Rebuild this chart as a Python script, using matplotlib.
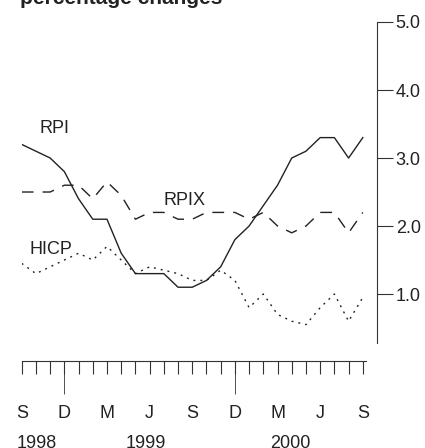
import matplotlib
matplotlib.use("Agg")
from matplotlib import pyplot as plt
from matplotlib import transforms
import numpy as np

plt.rcParams['font.family'] = ['Liberation Sans', 'DejaVu Sans']

# months from Sep 1998 (0) to Sep 2000 (24)
months = np.arange(25)
rpi = [3.2, 3.1, 3.0, 2.8, 2.4, 2.1, 2.1, 1.6, 1.3, 1.3, 1.3, 1.1, 1.1,
       1.2, 1.4, 1.8, 2.0, 2.3, 2.6, 3.0, 3.1, 3.3, 3.3, 3.0, 3.3]
rpix = [2.5, 2.5, 2.5, 2.6, 2.6, 2.4, 2.65, 2.45, 2.1, 2.2, 2.2, 2.1, 2.1,
        2.2, 2.2, 2.2, 2.1, 2.2, 2.0, 1.9, 2.0, 2.2, 2.2, 1.9, 2.2]
hicp = [1.45, 1.3, 1.4, 1.5, 1.6, 1.5, 1.7, 1.5, 1.3, 1.4, 1.35, 1.3, 1.2,
        1.2, 1.35, 1.2, 0.8, 1.0, 0.7, 0.6, 0.55, 0.8, 1.0, 0.6, 0.95]
month_letters = ['S', 'D', 'M', 'J', 'S', 'D', 'M', 'J', 'S']
years = ['1998', '1999', '2000']
year_pos = [1.08, 8.7, 18.9]
yticks = [1.0, 2.0, 3.0, 4.0, 5.0]

ink = '#222222'
fig = plt.figure(figsize=(4.25, 4.48), dpi=100)
ax = fig.add_axes([0.0511, 0.2344, 0.836, 0.7165])

ax.plot(months, rpi, color=ink, lw=1.0)
ax.plot(months, rpix, color=ink, lw=1.0, dashes=(8.5, 6.5))
ax.plot(months, hicp, color=ink, lw=1.0, dashes=(1.4, 3.6))

ax.text(2.34, 3.43, 'RPI', fontsize=13, color=ink, ha='center', va='center')
ax.text(11.42, 2.38, 'RPIX', fontsize=13, color=ink, ha='center', va='center')
ax.text(2.06, 1.66, 'HICP', fontsize=13, color=ink, ha='center', va='center')

ax.set_xlim(0, 25)
ax.set_ylim(0.28, 5.0)

for s in ['top', 'left']:
    ax.spines[s].set_visible(False)
ax.spines['right'].set_color('#333333')
ax.spines['bottom'].set_color('#333333')
ax.spines['bottom'].set_position(('outward', 13))
ax.spines['bottom'].set_bounds(0, 24.25)

ax.yaxis.tick_right()
ax.set_yticks(yticks)
ax.set_yticklabels(['%.1f' % v for v in yticks])
ax.tick_params(axis='y', direction='out', length=11.5, pad=2, labelsize=13,
               color='#333333', labelcolor=ink)

ax.set_xticks(months)
xl = []
for m in months:
    xl.append(month_letters[m // 3] if m % 3 == 0 else '')
ax.set_xticklabels(xl)
ax.xaxis.remove_overlapping_locs = False
ax.set_xticks([3, 15], minor=True)
ax.tick_params(axis='x', which='major', direction='out', length=9.4, pad=22.5,
               labelsize=13, color='#333333', labelcolor=ink)
ax.tick_params(axis='x', which='minor', direction='out', length=23.8,
               color='#333333', labelbottom=False)

# year labels sit right at the bottom edge, as in the original crop
trans = transforms.blended_transform_factory(ax.transData, fig.transFigure)
for yr, xp in zip(years, year_pos):
    ax.text(xp, 1 - 447.5 / 448, yr, fontsize=13, color=ink, ha='center',
            va='baseline', transform=trans, clip_on=False)

fig.text(20 / 425, 1 - 4 / 448, 'percentage changes', fontsize=15,
         weight='bold', color=ink, va='baseline')

fig.savefig('out.png', dpi=100)
